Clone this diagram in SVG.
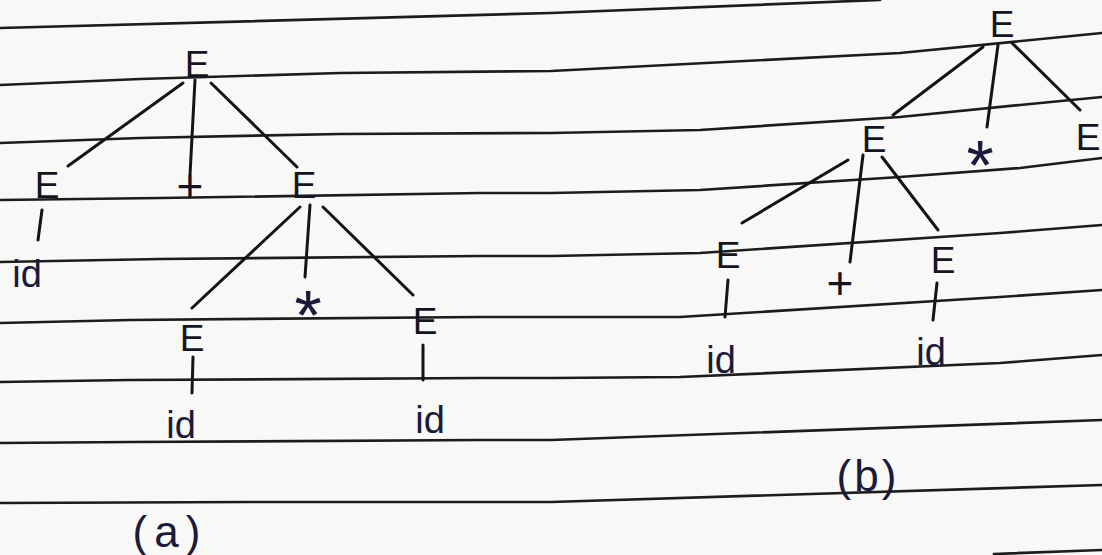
<svg xmlns="http://www.w3.org/2000/svg" width="1102" height="555" viewBox="0 0 1102 555">
  <style>
    .rule { fill: none; stroke: #1c1c1c; stroke-width: 2.7; stroke-linecap: round; stroke-linejoin: round; }
    .edge { fill: none; stroke: #141414; stroke-width: 3; stroke-linecap: round; }
    .sym { font-family: "Liberation Sans", "DejaVu Sans", sans-serif; fill: #151522; text-anchor: middle; }
    .E { font-size: 37px; }
    .id { font-size: 38px; fill: #1a1a3a; }
    .plus { font-size: 46px; }
    .star { font-size: 70px; fill: #1a1a3a; }
    .cap { font-size: 44px; fill: #1a1a3a; }
  </style>

  <rect width="1102" height="555" fill="#f8f8f6"/>

  <!-- ruled notebook lines -->
  <g id="ruling">
    <polyline class="rule" points="0,28 551,13 880,0"/>
    <polyline class="rule" points="0,85 140,79 340,73 551,71 900,53 1102,33"/>
    <polyline class="rule" points="0,143 140,138 340,134 551,133 700,130 900,117 1020,105 1102,97"/>
    <polyline class="rule" points="0,200 160,198 480,193 551,193 700,190 900,177 1020,168 1102,158"/>
    <polyline class="rule" points="0,262 160,259 480,256 551,256 700,253 1000,233 1102,225"/>
    <polyline class="rule" points="0,323 130,320 480,317 551,317 680,317 1000,297 1102,290"/>
    <polyline class="rule" points="0,382 130,380 480,378 551,378 680,377 1000,363 1102,355"/>
    <polyline class="rule" points="0,443 130,442 480,440 551,440 1102,420"/>
    <polyline class="rule" points="0,503 250,502 551,502 1102,485"/>
    <polyline class="rule" points="994,554 1102,550"/>
  </g>

  <!-- tree edges -->
  <g id="connectors">
    <!-- tree (a) -->
    <line class="edge" x1="183" y1="83" x2="68" y2="166"/>
    <line class="edge" x1="195" y1="80" x2="190" y2="175"/>
    <line class="edge" x1="211" y1="83" x2="297" y2="167"/>
    <line class="edge" x1="42" y1="210" x2="38" y2="240"/>
    <line class="edge" x1="300" y1="207" x2="192" y2="308"/>
    <line class="edge" x1="310" y1="205" x2="305" y2="277"/>
    <line class="edge" x1="323" y1="207" x2="413" y2="295"/>
    <line class="edge" x1="193" y1="357" x2="192" y2="393"/>
    <line class="edge" x1="423" y1="345" x2="423" y2="380"/>
    <!-- tree (b) -->
    <line class="edge" x1="983" y1="47" x2="893" y2="115"/>
    <line class="edge" x1="998" y1="45" x2="987" y2="127"/>
    <line class="edge" x1="1012" y1="43" x2="1080" y2="110"/>
    <line class="edge" x1="848" y1="160" x2="742" y2="223"/>
    <line class="edge" x1="863" y1="155" x2="850" y2="262"/>
    <line class="edge" x1="882" y1="157" x2="938" y2="230"/>
    <line class="edge" x1="728" y1="280" x2="725" y2="317"/>
    <line class="edge" x1="937" y1="283" x2="933" y2="320"/>
  </g>

  <!-- tree (a) nodes -->
  <g id="a-root"><text class="sym E" x="197" y="77">E</text></g>
  <g id="a-left"><text class="sym E" x="47" y="198">E</text></g>
  <g id="a-plus"><text class="sym plus" x="190" y="202">+</text></g>
  <g id="a-right"><text class="sym E" x="304" y="198">E</text></g>
  <g id="a-left-id"><text class="sym id" x="27" y="287">id</text></g>
  <g id="a-mul-left"><text class="sym E" x="192" y="351">E</text></g>
  <g id="a-star"><text class="sym star" x="308" y="340">*</text></g>
  <g id="a-mul-right"><text class="sym E" x="425" y="334">E</text></g>
  <g id="a-mul-left-id"><text class="sym id" x="181" y="438">id</text></g>
  <g id="a-mul-right-id"><text class="sym id" x="430" y="433">id</text></g>
  <g id="a-caption"><text class="sym cap" x="170" y="547" letter-spacing="7">(a)</text></g>

  <!-- tree (b) nodes -->
  <g id="b-root"><text class="sym E" x="1002" y="37">E</text></g>
  <g id="b-plus-node"><text class="sym E" x="874" y="152">E</text></g>
  <g id="b-star"><text class="sym star" x="980" y="190">*</text></g>
  <g id="b-right"><text class="sym E" x="1088" y="150">E</text></g>
  <g id="b-left"><text class="sym E" x="728" y="268">E</text></g>
  <g id="b-plus"><text class="sym plus" x="840" y="299">+</text></g>
  <g id="b-mid"><text class="sym E" x="943" y="273">E</text></g>
  <g id="b-left-id"><text class="sym id" x="721" y="373">id</text></g>
  <g id="b-mid-id"><text class="sym id" x="931" y="365">id</text></g>
  <g id="b-caption"><text class="sym cap" x="868" y="491" letter-spacing="3">(b)</text></g>
</svg>
